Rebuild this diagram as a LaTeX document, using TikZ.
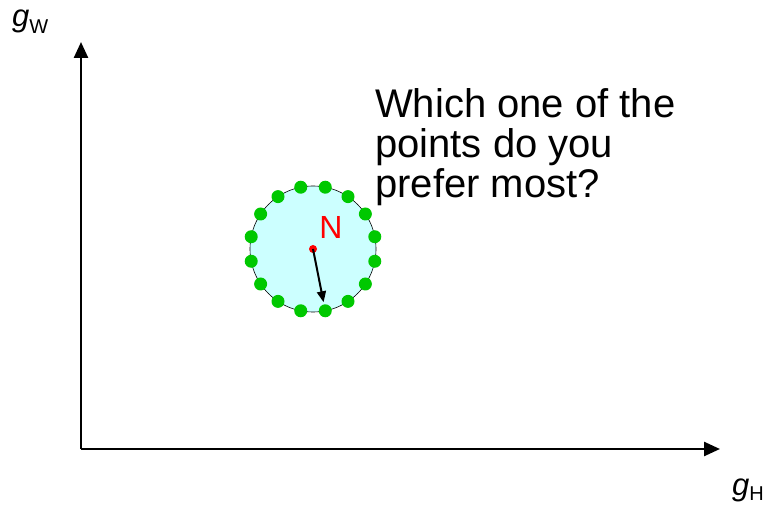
\documentclass[tikz,border=0pt]{standalone}
\usepackage{fontspec}
\setmainfont{Liberation Sans}
\usetikzlibrary{arrows.meta,calc}
\definecolor{dotgreen}{RGB}{0,200,0}
\definecolor{disc}{RGB}{204,255,255}
\begin{document}
\begin{tikzpicture}[x=1pt,y=-1pt,
  axis/.style={line width=2.5pt,-{Triangle[length=16pt,width=14pt]}},
  gdot/.style={circle,fill=dotgreen,inner sep=0pt,minimum size=13pt},
  rdot/.style={circle,fill=red,inner sep=0pt,minimum size=8pt},
  lbl/.style={inner sep=0pt}]
\useasboundingbox (0,0) rectangle (772,505);
% axes
\coordinate (O) at (81,449);
\coordinate (Ytip) at (81,42);
\coordinate (Xtip) at (720,449);
\draw[axis] (O) -- (Ytip);
\draw[axis] (O) -- (Xtip);
% disc
\coordinate (C) at (313,249);
\draw[fill=disc,line width=0.6pt] (C) circle[radius=63];
\foreach \k in {0,...,15}{
  \node[gdot] (d\k) at ($(C)+({11.25+22.5*\k}:63)$) {};
}
\node[rdot] (c) at (C) {};
\draw[line width=2pt,-{Triangle[length=11pt,width=9pt]},shorten >=2pt] (c.center) -- (d3);
\node[lbl,text=red,anchor=base,font=\fontsize{32}{32}\selectfont] (N) at (331,239) {N};
% question
\node[lbl,anchor=north west,align=left,font=\fontsize{40}{40}\selectfont] (q) at (375,88)
  {Which one of the\\points do you\\prefer most?};
% axis labels
\node[lbl,anchor=base west] (gw) at (12,27)
  {{\fontsize{31}{31}\selectfont\itshape g}{\fontsize{20}{20}\selectfont\raisebox{-7pt}{W}}};
\node[lbl,anchor=base west] (gh) at (732,495)
  {{\fontsize{31}{31}\selectfont\itshape g}{\fontsize{20}{20}\selectfont\raisebox{-5pt}{H}}};
\end{tikzpicture}
\end{document}
